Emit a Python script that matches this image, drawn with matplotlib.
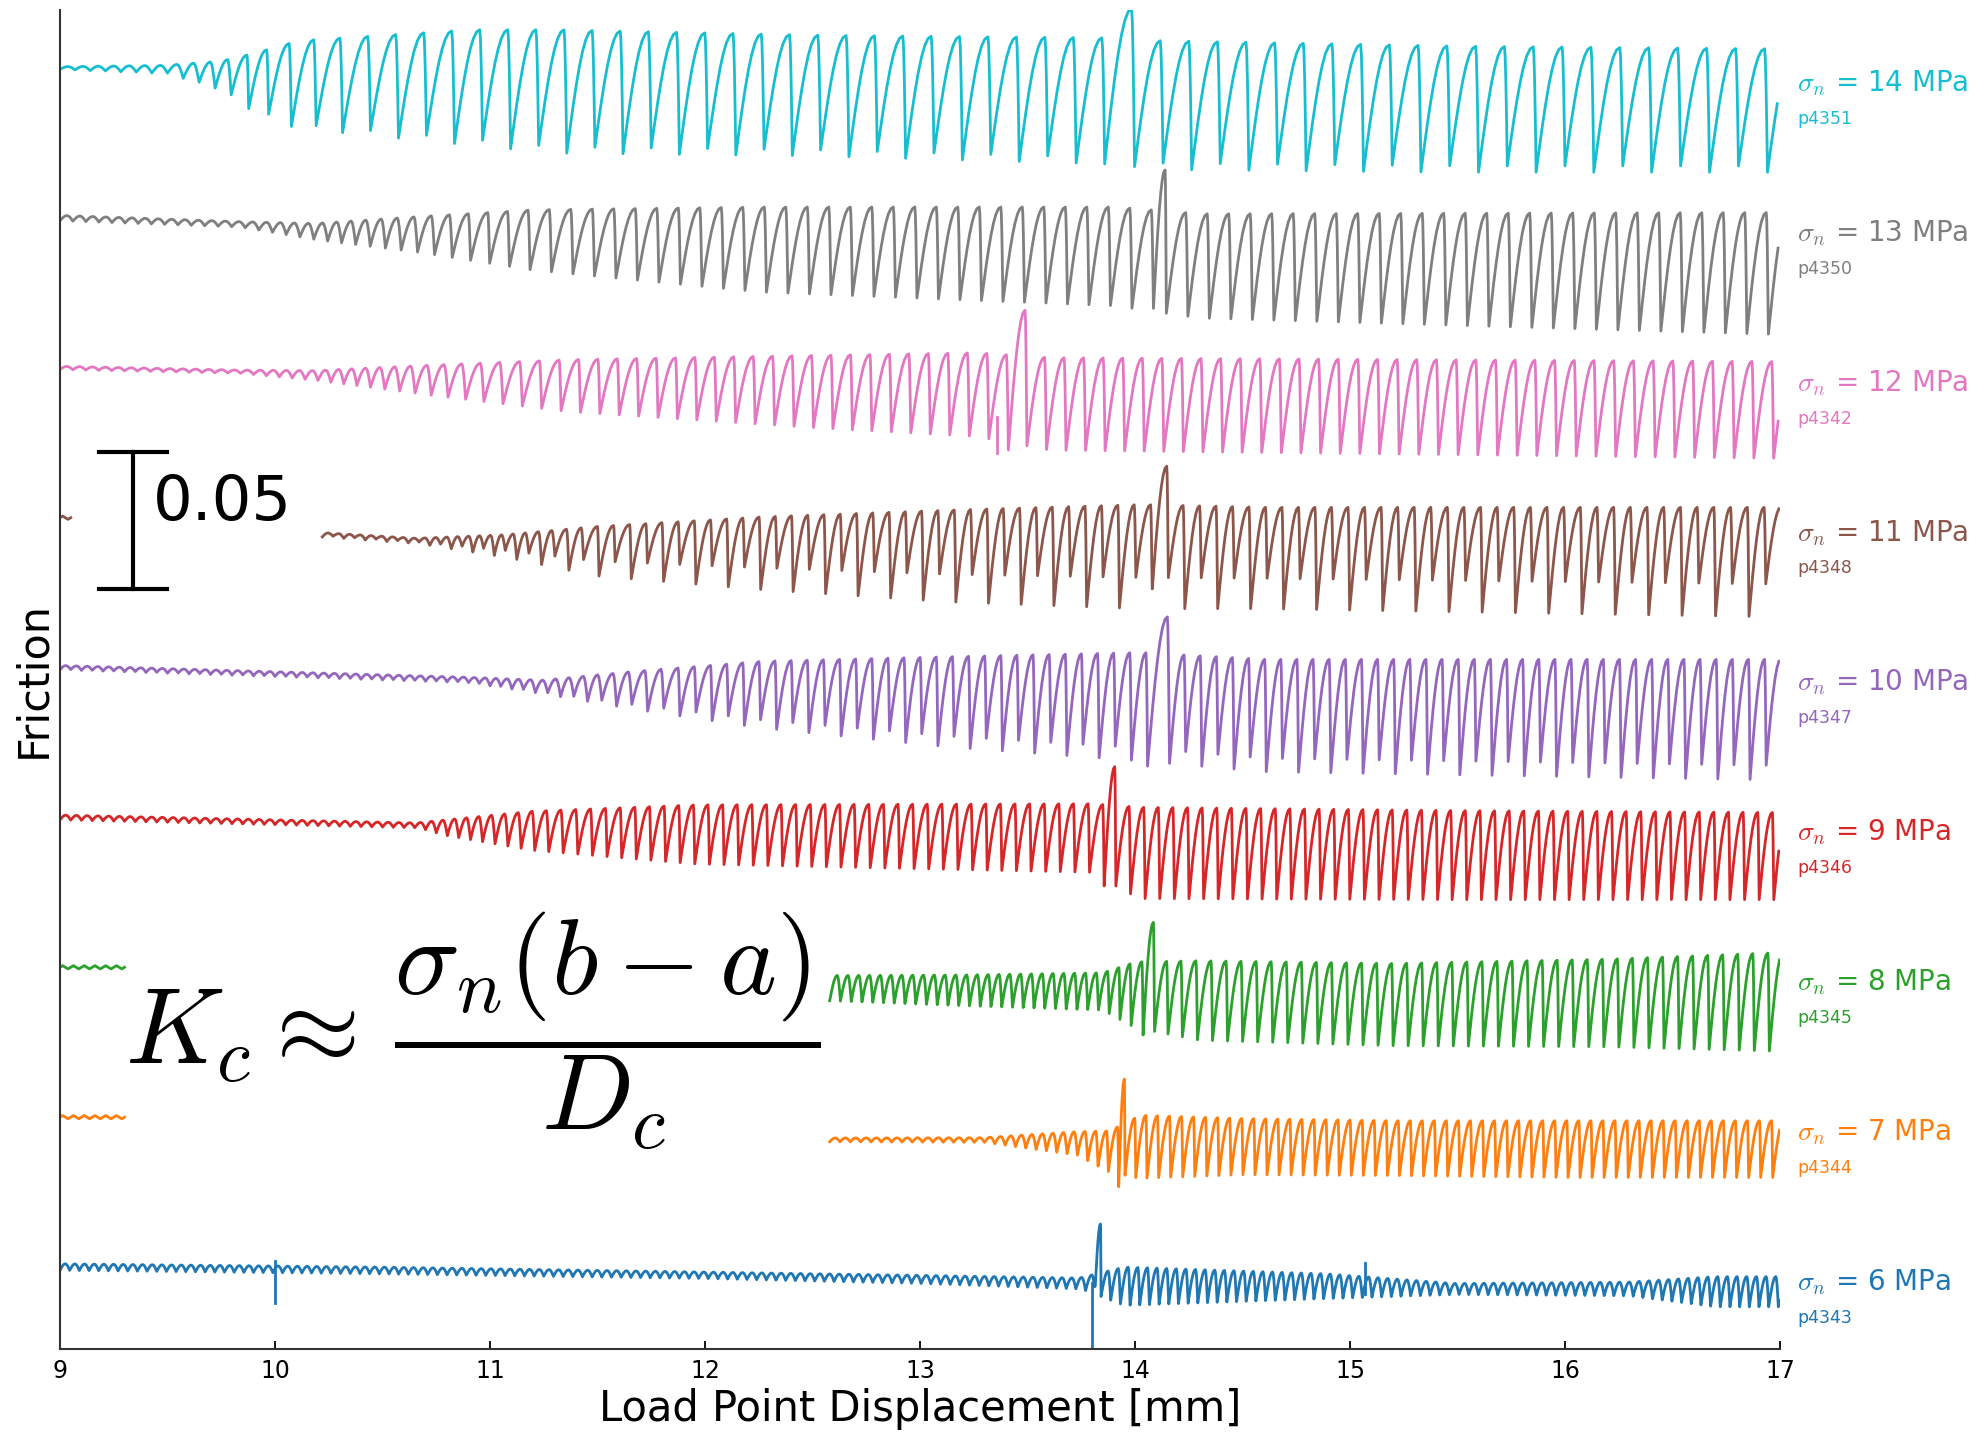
import numpy as np
import matplotlib
matplotlib.use("Agg")
import matplotlib.pyplot as plt

plt.rcParams['mathtext.fontset'] = 'cm'

# experiments, bottom to top
runs = ['p4343', 'p4344', 'p4345', 'p4346', 'p4347', 'p4348', 'p4342', 'p4350', 'p4351']
stress = [6, 7, 8, 9, 10, 11, 12, 13, 14]
colors = ['C0', 'C1', 'C2', 'C3', 'C4', 'C5', 'C6', 'C7', 'C9']
spacing = 0.0547          # vertical offset between traces (friction units)
scale_len = 0.05

# where each trace's main record starts (mm); short lead-in piece for 3 runs
start_x = [9.0, 12.58, 12.58, 9.0, 9.0, 10.22, 9.0, 9.0, 9.0]
lead_end = [None, 9.34, 9.34, None, None, 9.09, None, None, None]

# envelope: knot position, peak level, trough level (rel. to offset)
knot_x = [
    [9.0, 10.5, 12.0, 13.0, 13.75, 13.95, 14.9, 15.5, 16.3, 16.7, 17.0],
    [12.58, 13.3, 13.73, 13.88, 14.02, 14.5, 15.2, 16.0, 17.0],
    [12.58, 13.2, 13.85, 14.0, 14.3, 15.2, 16.2, 17.0],
    [9.0, 10.67, 10.79, 11.2, 11.96, 13.79, 14.02, 15.5, 17.0],
    [9.0, 10.9, 11.26, 11.67, 12.26, 13.14, 14.02, 14.6, 17.0],
    [10.22, 10.67, 11.08, 11.49, 12.26, 13.14, 14.02, 14.6, 17.0],
    [9.0, 9.84, 10.2, 10.73, 11.37, 12.55, 13.26, 13.6, 17.0],
    [9.0, 9.84, 10.2, 10.67, 11.2, 12.26, 13.9, 14.3, 17.0],
    [9.0, 9.5, 9.75, 9.9, 10.1, 10.9, 11.3, 12.5, 13.9, 14.1, 15.5, 17.0],
]
knot_hi = [
    [0.0012, 0.0, -0.0018, -0.003, -0.004, 0.0, -0.0025, -0.006, -0.0055, -0.0035, -0.0035],
    [-0.0076, -0.0075, -0.0053, -0.005, 0.0007, -0.0005, -0.0013, -0.0013, -0.0013],
    [-0.003, -0.0028, -0.002, 0.002, 0.0024, 0.0014, 0.003, 0.0054],
    [0.0009, -0.002, -0.001, 0.0023, 0.0046, 0.005, 0.0037, 0.0025, 0.0018],
    [0.0008, -0.0035, -0.0046, -0.0014, 0.0023, 0.004, 0.0055, 0.003, 0.003],
    [-0.0054, -0.0075, -0.0062, -0.0032, 0.0003, 0.0028, 0.0048, 0.0038, 0.0038],
    [0.0006, -0.0008, -0.001, 0.001, 0.003, 0.0046, 0.0055, 0.0037, 0.0023],
    [0.001, -0.0013, -0.002, 0.0005, 0.003, 0.004, 0.004, 0.0015, 0.002],
    [0.0005, 0.001, 0.0025, 0.0055, 0.010, 0.014, 0.014, 0.012, 0.011, 0.010, 0.008, 0.007],
]
knot_lo = [
    [-0.0012, -0.0025, -0.0042, -0.006, -0.008, -0.014, -0.0115, -0.010, -0.0105, -0.0145, -0.0145],
    [-0.009, -0.0092, -0.0138, -0.020, -0.0223, -0.021, -0.0213, -0.022, -0.022],
    [-0.0122, -0.014, -0.0156, -0.022, -0.0266, -0.0286, -0.029, -0.0306],
    [-0.0009, -0.0038, -0.0065, -0.012, -0.017, -0.020, -0.0296, -0.030, -0.030],
    [-0.0008, -0.0055, -0.0097, -0.0152, -0.022, -0.029, -0.034, -0.038, -0.041],
    [-0.007, -0.0095, -0.0145, -0.0212, -0.0262, -0.0307, -0.0332, -0.0332, -0.0362],
    [-0.0006, -0.002, -0.0046, -0.010, -0.016, -0.022, -0.025, -0.030, -0.033],
    [-0.001, -0.0033, -0.008, -0.0125, -0.019, -0.027, -0.032, -0.0365, -0.0425],
    [-0.0005, -0.002, -0.008, -0.016, -0.022, -0.028, -0.031, -0.032, -0.035, -0.037, -0.038, -0.038],
]

# stick-slip period (mm of load point displacement)
period_x = [
    [9.0, 17.0],
    [12.58, 13.9, 14.1, 17.0],
    [12.58, 13.9, 14.2, 17.0],
    [9.0, 10.7, 11.3, 17.0],
    [9.0, 11.0, 11.7, 17.0],
    [10.22, 11.0, 11.5, 17.0],
    [9.0, 10.3, 11.0, 17.0],
    [9.0, 10.3, 11.2, 17.0],
    [9.0, 9.75, 10.0, 10.3, 17.0],
]
period_v = [
    [0.045, 0.045],
    [0.048, 0.048, 0.056, 0.056],
    [0.05, 0.05, 0.07, 0.07],
    [0.05, 0.05, 0.068, 0.068],
    [0.05, 0.05, 0.075, 0.075],
    [0.05, 0.05, 0.075, 0.078],
    [0.06, 0.06, 0.09, 0.092],
    [0.06, 0.065, 0.10, 0.10],
    [0.07, 0.075, 0.11, 0.13, 0.135],
]
# period doubling (alternating trough depth)
alternation = [0, 0, 0, 0, 0.12, 0.3, 0, 0, 0.05]

# large event near 14 mm: position, peak, trough before it
event_x = [13.83, 13.94, 14.08, 13.90, 14.14, 14.14, 13.48, 14.11, 13.97]
event_hi = [0.0157, 0.0139, 0.0164, 0.0185, 0.0185, 0.0188, 0.021, 0.0175, 0.0217]
event_lo = [-0.007, -0.0254, -0.0247, -0.025, -0.036, -0.026, -0.030, -0.033, -0.035]

# isolated spikes: trace index, x, top, bottom
spike_run = [0, 0, 0, 6]
spike_x = [10.0, 13.80, 15.07, 13.36]
spike_hi = [0.0023, -0.006, 0.0014, -0.018]
spike_lo = [-0.013, -0.06, -0.010, -0.031]


def cycle_pts(x0, p, l, u, l_next, fd):
    t = np.linspace(0, 1, 9)[:-1]
    xr = x0 + (1 - fd) * p * t
    yr = l + (u - l) * np.sin(np.pi / 2 * t)
    s = np.linspace(0, 1, 5)[:-1]
    xd = x0 + (1 - fd) * p + fd * p * s
    yd = u + (l_next - u) * (1 - np.cos(np.pi / 2 * s))
    return np.r_[xr, xd], np.r_[yr, yd]


def build(i):
    kx, kh, kl = knot_x[i], knot_hi[i], knot_lo[i]
    x = start_x[i]
    xs, ys = [], []
    k = 0
    ev_done = False

    def trough(xx, kk):
        h = np.interp(xx, kx, kh)
        lo = np.interp(xx, kx, kl)
        return h + (lo - h) * (1 - alternation[i] * (kk % 2))

    l = trough(x, 0)
    while x < 17.0:
        p = np.interp(x, period_x[i], period_v[i])
        if not ev_done and x + p > event_x[i] - 0.2 * p:
            # the big slip event
            l = event_lo[i]
            u = event_hi[i]
            fd = 0.2
            p = max((event_x[i] - x) / (1 - fd), 0.6 * p)
            ev_done = True
        else:
            u = np.interp(x + 0.8 * p, kx, kh)
        l_next = trough(x + p, k + 1)
        amp = u - min(l, l_next)
        fd = np.clip(0.5 - amp * 22, 0.1, 0.5)
        cx, cy = cycle_pts(x, p, l, u, l_next, fd)
        xs.append(cx)
        ys.append(cy)
        x += p
        l = l_next
        k += 1
    xs = np.concatenate(xs)
    ys = np.concatenate(ys)
    keep = xs <= 17.0
    return xs[keep], ys[keep]


fig = plt.figure(figsize=(19.86, 14.32), dpi=100)
ax = fig.add_axes([0.0302, 0.058, 0.8661, 0.935])

lw = 2.0
for i in range(len(runs)):
    off = i * spacing
    xs, ys = build(i)
    ax.plot(xs, ys + off, color=colors[i], lw=lw)
    if lead_end[i] is not None:
        n = int((lead_end[i] - 9.0) / 0.05)
        lx = 9.0 + np.arange(n * 4 + 1) * 0.0125
        ly = np.tile([0.0, 0.0006, 0.0, -0.0006], n + 1)[:len(lx)]
        ax.plot(lx, ly + off, color=colors[i], lw=lw)
    ax.text(17.08, off - 0.0055, r'$\sigma_n$ = %d MPa' % stress[i], color=colors[i],
            fontsize=20, ha='left', va='center', clip_on=False)
    ax.text(17.08, off - 0.0185, runs[i], color=colors[i], fontsize=12.5,
            ha='left', va='center', clip_on=False)

for r, sx, sh, sl in zip(spike_run, spike_x, spike_hi, spike_lo):
    ax.plot([sx, sx], [sh + r * spacing, sl + r * spacing], color=colors[r], lw=lw)

# scale bar
bar_x, bar_top = 9.34, 0.2974
ax.plot([bar_x, bar_x], [bar_top - scale_len, bar_top], color='k', lw=3)
ax.plot([9.18, 9.50], [bar_top, bar_top], color='k', lw=3)
ax.plot([9.18, 9.50], [bar_top - scale_len, bar_top - scale_len], color='k', lw=3)
ax.text(9.43, bar_top - 0.0186, '%.2f' % scale_len, fontsize=45, ha='left', va='center')

ax.text(10.92, 0.0862, r'$K_c \approx \,\dfrac{\sigma_n(b-a)}{D_c}$', fontsize=78,
        ha='center', va='center')

ax.set_xlim(9, 17)
ax.set_ylim(-0.0299, 0.4588)
ax.set_xticks(range(9, 18))
ax.set_yticks([])
ax.tick_params(axis='x', direction='in', length=6, width=1.3, labelsize=17, pad=7)
for side in ['top', 'right']:
    ax.spines[side].set_visible(False)
for side in ['left', 'bottom']:
    ax.spines[side].set_linewidth(1.5)
    ax.spines[side].set_color('#333333')
ax.set_xlabel('Load Point Displacement [mm]', fontsize=30, labelpad=4)
ax.set_ylabel('Friction', fontsize=31, labelpad=4)

fig.savefig('out.png', dpi=100)
